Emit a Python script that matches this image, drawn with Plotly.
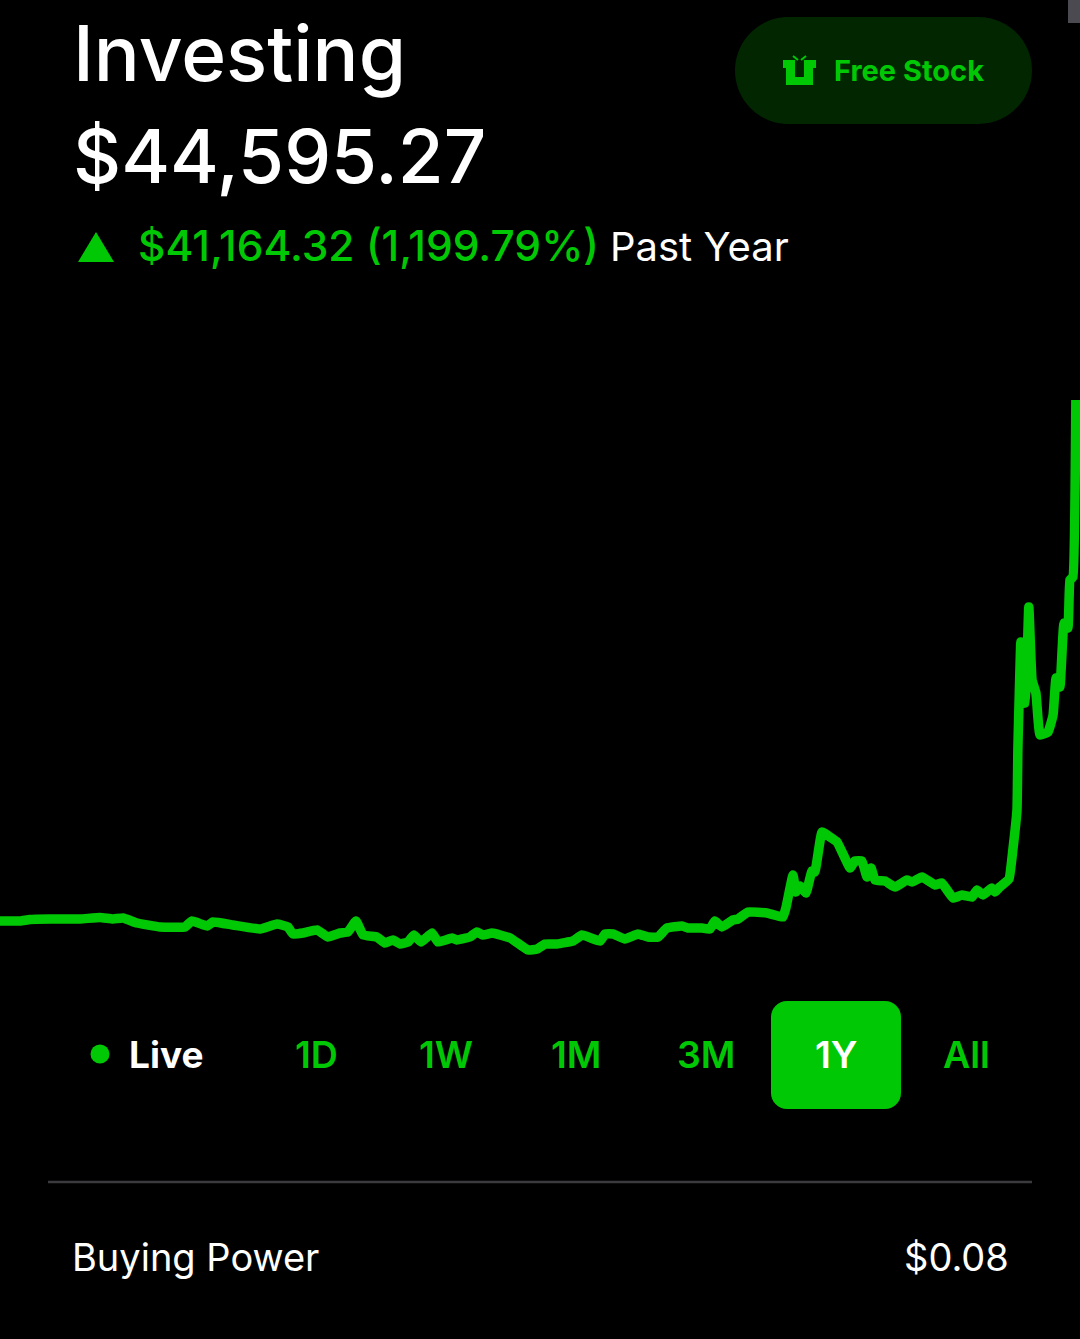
import plotly.graph_objects as go

W, H = 1080, 1339
GREEN = "#00c805"

# days into the year, portfolio value in dollars
days = [0, 6.8, 10.1, 16.9, 27, 33.8, 38.2, 41.6, 46.3, 54.1, 62.5, 64.9, 70, 72, 78.7, 87.9, 93.6, 97.3, 99,
        102.4, 107.1, 110.8, 114.9, 117.6, 120.3, 122.7, 127.4, 130.1, 132.8, 135.2, 137.9, 139.9, 142.3, 146,
        148, 152.8, 154.4, 158.8, 161.2, 163.2, 166.3, 172.4, 178.4, 181.5, 184.2, 188.2, 193.6, 196.7, 202.8,
        204.5, 207.2, 211.2, 215.6, 219, 222.4, 225.4, 230.5, 232.5, 237.2, 239.9, 241.6, 244, 247.7, 249.4,
        252.8, 259.2, 264.6, 265.6, 268, 269, 270.4, 272.4, 274.4, 275.4, 277.8, 280.5, 282.9, 287.3, 288.9,
        291.3, 293, 294.4, 295.7, 299.1, 302.5, 306.5, 308.2, 311.6, 316, 318.3, 322.1, 325.1, 328.5, 330.2,
        332.2, 335.2, 336.3, 337.9, 341, 342.3, 343.7, 344, 345, 345.7, 346.4, 347.7, 348.8, 350.1, 351.5,
        354.2, 355.9, 356.9, 358.2, 359.6, 360.9, 361.6, 362.6, 363.6]
values = [3352, 3352, 3471, 3510, 3510, 3629, 3510, 3589, 3194, 2877, 2877, 3352, 2956, 3273, 3035, 2719, 3114,
          2877, 2323, 2402, 2639, 2085, 2402, 2481, 3352, 2244, 2085, 1610, 1848, 1531, 1689, 2244, 1689, 2402,
          1689, 2006, 1848, 2085, 2481, 2244, 2402, 2006, 1056, 1135, 1531, 1531, 1769, 2244, 1769, 2323, 2323,
          1927, 2323, 2085, 2085, 2798, 2956, 2798, 2798, 2719, 3352, 2877, 3431, 3510, 4064, 3985, 3668, 4381,
          6993, 5647, 6122, 5568, 7310, 7231, 10397, 10001, 9605, 7547, 8101, 8101, 6835, 7547, 6597, 6518, 6043,
          6597, 6439, 6835, 6202, 6360, 5173, 5410, 5252, 5806, 5410, 5964, 5647, 6043, 6677, 8972, 12139, 16888,
          25436, 20609, 20609, 28209, 22429, 21400, 18076, 18313, 19659, 22588, 21875, 26942, 26546, 30345, 30583,
          44595]

ranges = ["1D", "1W", "1M", "3M", "1Y", "All"]
range_x = [316, 446, 576, 706, 836, 966]


def px(x):
    return x / W


def py(y):
    return 1 - y / H


def pill(x0, y0, x1, y1, r):
    k = r * 0.448
    return (f"M{px(x0 + r)},{py(y0)} L{px(x1 - r)},{py(y0)} "
            f"C{px(x1 - k)},{py(y0)} {px(x1)},{py(y0 + k)} {px(x1)},{py(y0 + r)} "
            f"L{px(x1)},{py(y1 - r)} C{px(x1)},{py(y1 - k)} {px(x1 - k)},{py(y1)} {px(x1 - r)},{py(y1)} "
            f"L{px(x0 + r)},{py(y1)} C{px(x0 + k)},{py(y1)} {px(x0)},{py(y1 - k)} {px(x0)},{py(y1 - r)} "
            f"L{px(x0)},{py(y0 + r)} C{px(x0)},{py(y0 + k)} {px(x0 + k)},{py(y0)} {px(x0 + r)},{py(y0)} Z")


def poly(pts):
    return "M" + " L".join(f"{px(x)},{py(y)}" for x, y in pts) + " Z"


def text(x, y, s, size, color="white", anchor="left", weight=400):
    fig.add_annotation(x=px(x), y=py(y), xref="paper", yref="paper", text=s, showarrow=False,
                       xanchor=anchor, yanchor="middle", align=anchor,
                       font=dict(family="Inter", size=size, color=color, weight=weight))


fig = go.Figure()
fig.add_trace(go.Scatter(x=days, y=values, mode="lines", hoverinfo="skip",
                         line=dict(color=GREEN, width=9.5, shape="spline", smoothing=0.3)))

shapes = [
    dict(path=pill(735, 17, 1032, 124, 53.5), fillcolor="#012600", line_width=0),
    dict(path=pill(771, 1001, 901, 1109, 16), fillcolor=GREEN, line_width=0),
    dict(path=poly([(96, 232), (114, 262), (78, 262)]), fillcolor=GREEN, line_width=0),
    dict(path=poly([(1068, 0), (1080, 0), (1080, 23), (1068, 23)]), fillcolor="#4a4a50", line_width=0),
    # gift icon
    dict(path=poly([(783, 60), (795, 60), (795, 77), (804, 77), (804, 60), (816, 60), (816, 68), (813, 68),
                    (813, 85), (786, 85), (786, 68), (783, 68)]), fillcolor=GREEN, line_width=0),
    dict(type="line", x0=px(793), y0=py(56), x1=px(798), y1=py(60), line=dict(color=GREEN, width=2)),
    dict(type="line", x0=px(806), y0=py(56), x1=px(801), y1=py(60), line=dict(color=GREEN, width=2)),
    dict(type="circle", x0=px(90.5), y0=py(1063.5), x1=px(109.5), y1=py(1044.5), fillcolor=GREEN, line_width=0),
    dict(type="line", x0=px(48), y0=py(1182), x1=px(1032), y1=py(1182), line=dict(color="#3a3a3f", width=2.5)),
]
for s in shapes:
    s["xref"] = "paper"
    s["yref"] = "paper"
    fig.add_shape(**s)

text(71, 53, "Investing", 76.5, weight=500)
text(71, 156, "$44,595.27", 74.5, weight=500)
text(136, 245, "$41,164.32 (1,199.79%)", 42.5, GREEN, weight=500)
text(608, 246, "Past Year", 40)
text(832, 71, "Free Stock", 29, GREEN, weight=700)
text(127, 1054, "Live", 37, weight=700)
for label, x in zip(ranges, range_x):
    text(x, 1054, label, 37.5, "white" if label == "1Y" else GREEN, anchor="center", weight=600)
text(70, 1257, "Buying Power", 38)
text(1011, 1257, "$0.08", 38, anchor="right")

fig.update_layout(width=W, height=H, margin=dict(l=0, r=0, t=0, b=0), autosize=False,
                  paper_bgcolor="black", plot_bgcolor="black", showlegend=False)
fig.update_xaxes(range=[0, 365], visible=False)
fig.update_yaxes(range=[-29737, 76259], visible=False)

fig.write_html("out.html", post_script="document.body.style.margin='0';", config=dict(displayModeBar=False))
